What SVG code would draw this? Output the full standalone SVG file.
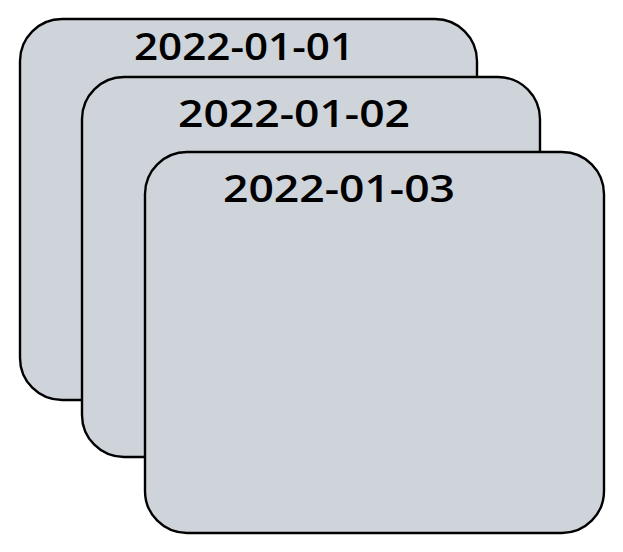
<svg xmlns="http://www.w3.org/2000/svg" width="623" height="552" viewBox="0 0 623 552">
<style>
.card{fill:#ced4da;stroke:#000;stroke-width:2.4}
.lbl{font-family:"Open Sans","Liberation Sans",sans-serif;font-size:37px;font-weight:600;fill:#000;text-anchor:start}
</style>
<rect width="623" height="552" fill="#fff"/>
<g id="node-2022-01-01">
<rect class="card" x="20" y="19" width="457" height="381" rx="42" ry="42"/>
<text class="lbl" x="134" y="60" textLength="220" lengthAdjust="spacingAndGlyphs">2022-01-01</text>
</g>
<g id="node-2022-01-02">
<rect class="card" x="82" y="77" width="458" height="380" rx="42" ry="42"/>
<text class="lbl" x="178" y="127" textLength="232" lengthAdjust="spacingAndGlyphs">2022-01-02</text>
</g>
<g id="node-2022-01-03">
<rect class="card" x="145" y="152" width="459" height="381" rx="42" ry="42"/>
<text class="lbl" x="223" y="202" textLength="232" lengthAdjust="spacingAndGlyphs">2022-01-03</text>
</g>
<g id="connectors"></g>
</svg>
